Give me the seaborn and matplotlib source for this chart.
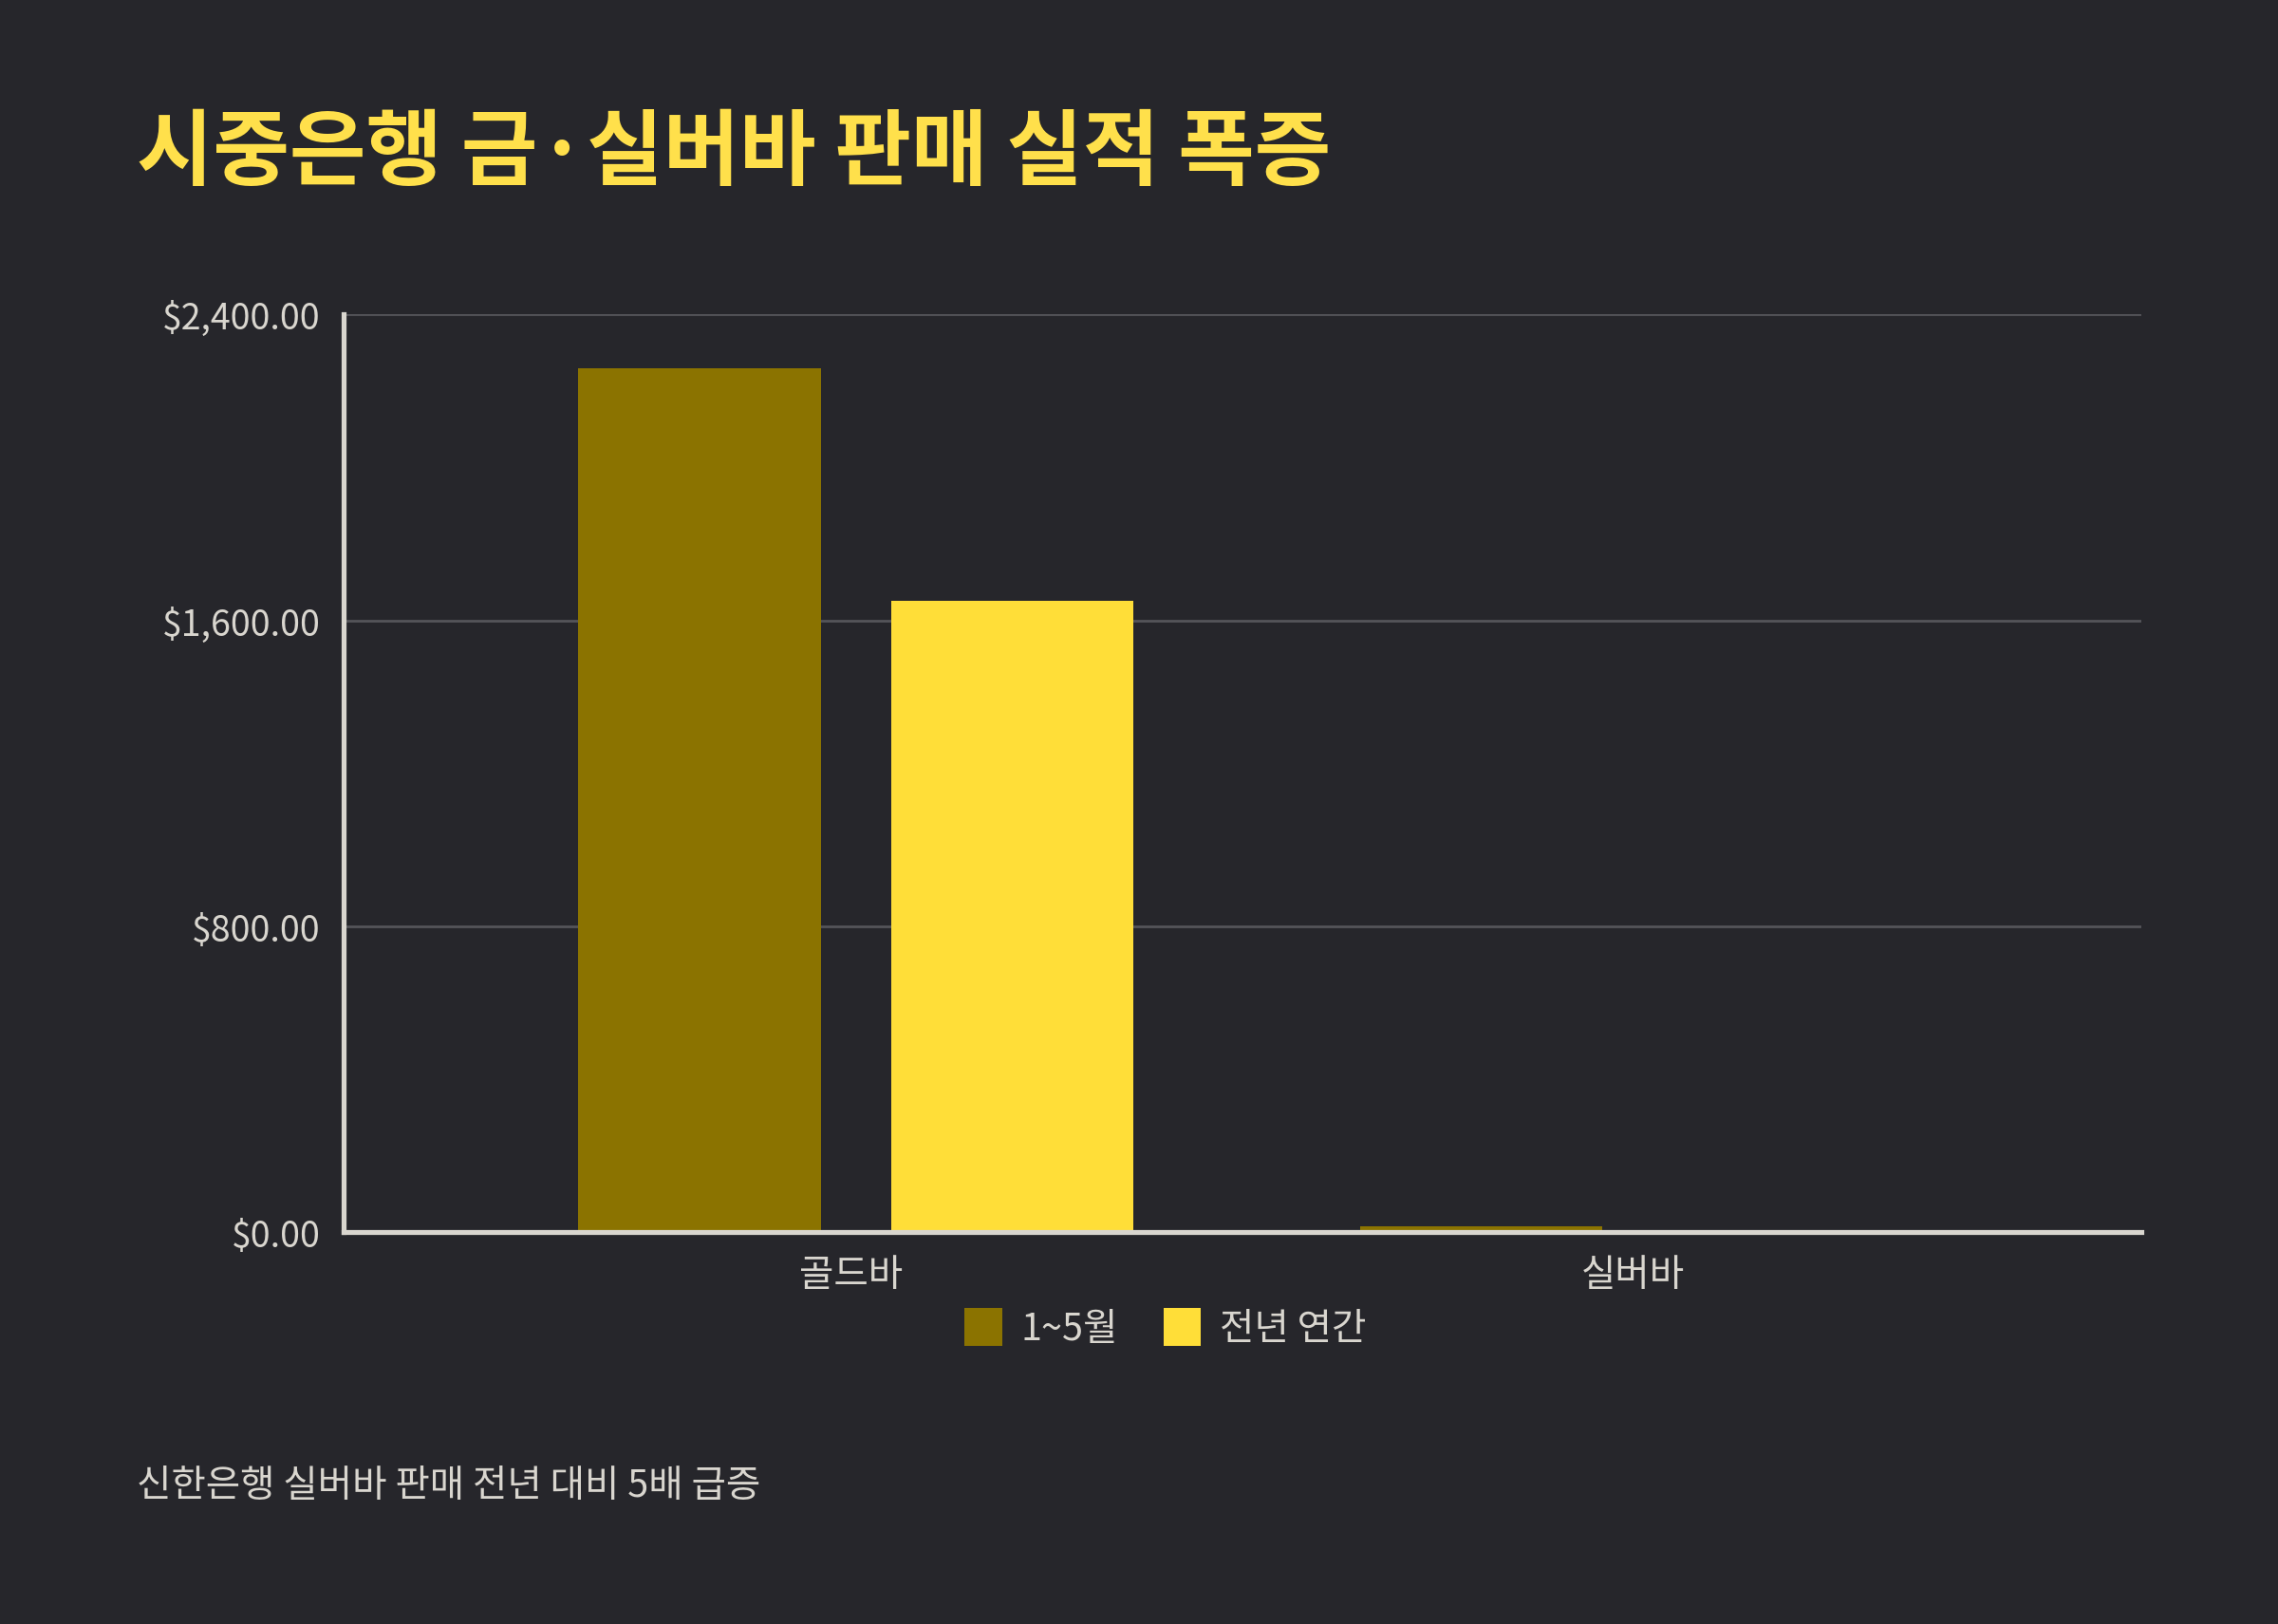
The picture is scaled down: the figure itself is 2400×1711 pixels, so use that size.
import matplotlib
matplotlib.use("Agg")
import matplotlib.pyplot as plt
import seaborn as sns
import pandas as pd
from matplotlib.ticker import FuncFormatter

categories = ["골드바", "실버바"]
series_names = ["1~5월", "전년 연간"]
values_jan_may = [2260, 15]
values_prev_year = [1650, 3]

sns.set_theme(style="dark")
plt.rcParams['font.family'] = ['Noto Sans CJK KR', 'DejaVu Sans']

bg = "#26262b"
fg = "#d9d6cf"
colors = ["#8b7300", "#ffde38"]

df = pd.DataFrame({
    "cat": categories * 2,
    "series": [series_names[0]] * 2 + [series_names[1]] * 2,
    "val": values_jan_may + values_prev_year,
})

fig = plt.figure(figsize=(16, 11.413), dpi=150, facecolor=bg)
ax = fig.add_axes([0.151, 0.241, 0.789, 0.565])
ax.set_facecolor(bg)
sns.barplot(data=df, x="cat", y="val", hue="series", palette=colors,
            width=0.8, ax=ax, legend=True, saturation=1)
for p in ax.patches:
    if p.get_height() == 0 and p.get_width() == 0:
        continue
    c = p.get_x() + p.get_width() / 2
    p.set_width(0.31)
    p.set_x(c - 0.149)
    p.set_linewidth(0)

ax.set_xlim(-0.649, 1.651)
ax.set_ylim(0, 2400)
ax.set_yticks([0, 800, 1600, 2400])
ax.yaxis.set_major_formatter(FuncFormatter(lambda v, _: f"${v:,.2f}"))
ax.grid(axis="y", color="#55555a", linewidth=1.3)
ax.grid(axis="x", visible=False)
ax.set_axisbelow(True)
ax.set_xlabel("")
ax.set_ylabel("")
for s in ["top", "right"]:
    ax.spines[s].set_visible(False)
for s in ["left", "bottom"]:
    ax.spines[s].set_color(fg)
    ax.spines[s].set_linewidth(2.5)
ax.tick_params(axis="both", colors=fg, labelsize=18, length=8, width=2.5,
               direction="out", pad=4)
ax.tick_params(axis="x", labelsize=19)

leg = ax.legend(loc="upper center", bbox_to_anchor=(0.457, -0.045), ncol=2,
                frameon=False, fontsize=19, handlelength=1.0, handleheight=1.2,
                columnspacing=1.2, handletextpad=0.5)
for t in leg.get_texts():
    t.set_color(fg)
for h in leg.legend_handles:
    h.set_linewidth(0)

fig.text(0.06, 0.905, "시중은행 금·실버바 판매 실적 폭증", color="#ffe04b",
         fontsize=42, fontweight="bold", va="center")
fig.text(0.06, 0.085, "신한은행 실버바 판매 전년 대비 5배 급증", color=fg,
         fontsize=19, va="center")

fig.savefig("out.png", dpi=150, facecolor=bg)
